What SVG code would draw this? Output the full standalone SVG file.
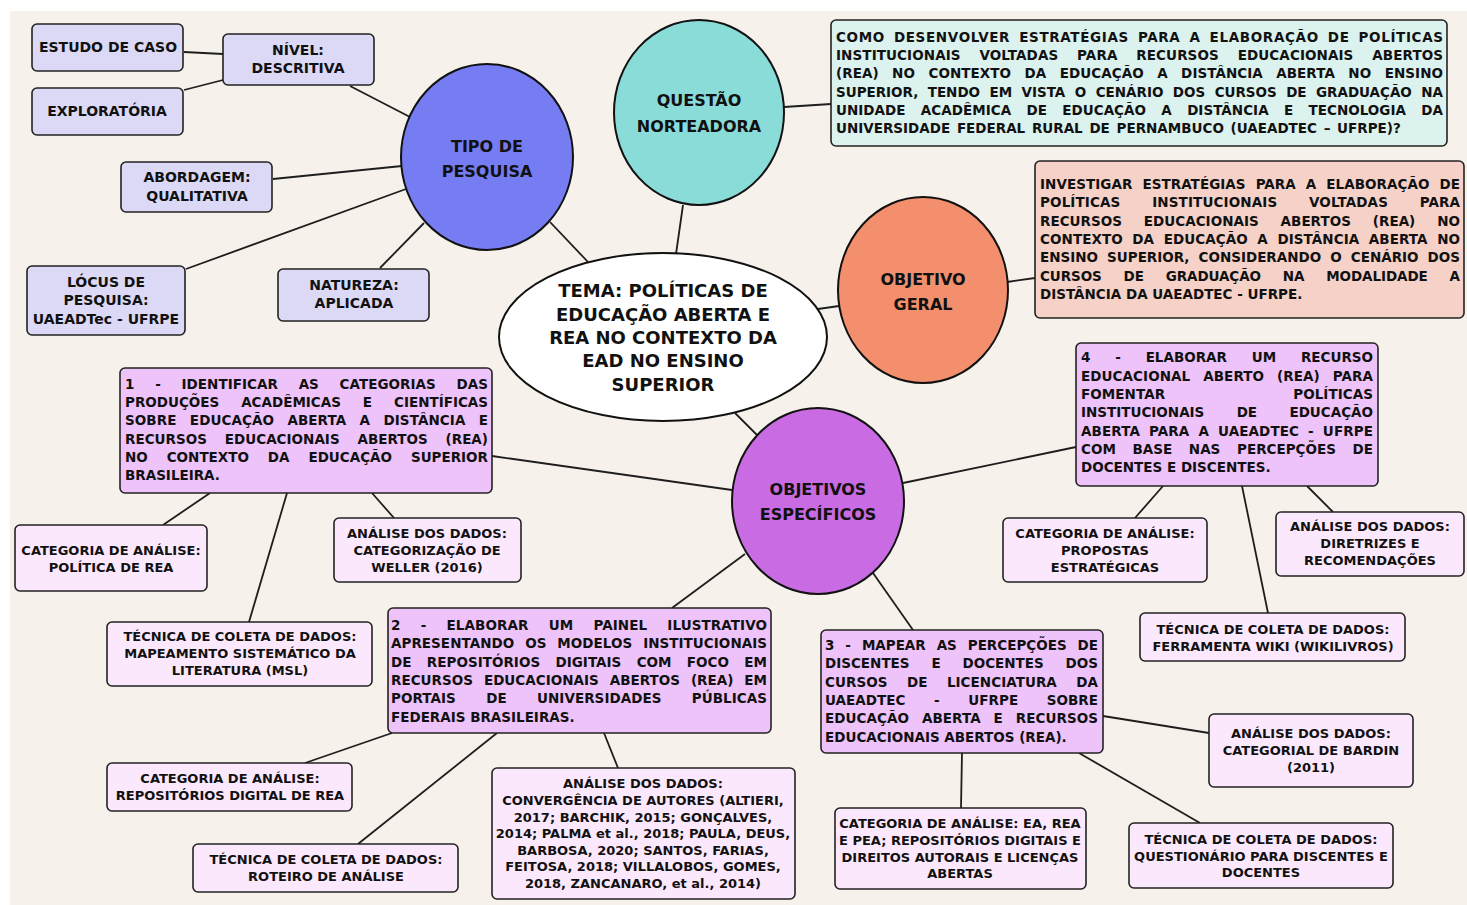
<svg xmlns="http://www.w3.org/2000/svg" width="1467" height="905" viewBox="0 0 1467 905">
<style>
text{font-family:"DejaVu Sans","Liberation Sans",sans-serif;font-weight:bold;fill:#111;}
.c{text-anchor:middle;}
.s14{font-size:14px;}
.s13{font-size:13px;}
.b{font-size:13.5px;}
.big{font-size:16px;text-anchor:middle;}
.tema{font-size:18px;text-anchor:middle;}
.box{stroke:#222;stroke-width:1.6;}
.lav{fill:#dcd9f6;}
.pink{fill:#fce8fc;}
.purp{fill:#eec3fa;}
.circ{stroke:#111;stroke-width:2;}
#connectors line{stroke:#1e1e1e;stroke-width:1.8;}
</style>
<rect x="0" y="0" width="1467" height="905" fill="#ffffff"/>
<rect x="10" y="11" width="1457" height="894" fill="#f6f2eb"/>

<g id="connectors">
<line x1="184" y1="52" x2="223" y2="54"/>
<line x1="184" y1="90" x2="223" y2="80"/>
<line x1="350" y1="86" x2="410" y2="117"/>
<line x1="273" y1="179" x2="402" y2="166"/>
<line x1="186" y1="269" x2="406" y2="189"/>
<line x1="380" y1="268" x2="424" y2="223"/>
<line x1="550" y1="222" x2="588" y2="262"/>
<line x1="683" y1="205" x2="676" y2="254"/>
<line x1="784" y1="107" x2="831" y2="104"/>
<line x1="818" y1="309" x2="839" y2="306"/>
<line x1="1007" y1="282" x2="1035" y2="278"/>
<line x1="735" y1="413" x2="757" y2="435"/>
<line x1="732" y1="490" x2="492" y2="456"/>
<line x1="903" y1="483" x2="1076" y2="447"/>
<line x1="745" y1="554" x2="672" y2="608"/>
<line x1="873" y1="573" x2="913" y2="630"/>
<line x1="210" y1="493" x2="163" y2="525"/>
<line x1="287" y1="493" x2="249" y2="622"/>
<line x1="372" y1="493" x2="394" y2="518"/>
<line x1="1163" y1="486" x2="1135" y2="518"/>
<line x1="1242" y1="486" x2="1268" y2="613"/>
<line x1="1307" y1="486" x2="1333" y2="512"/>
<line x1="392" y1="733" x2="305" y2="763"/>
<line x1="497" y1="733" x2="358" y2="844"/>
<line x1="604" y1="733" x2="618" y2="768"/>
<line x1="1103" y1="716" x2="1209" y2="733"/>
<line x1="962" y1="753" x2="961" y2="808"/>
<line x1="1079" y1="753" x2="1200" y2="823"/>
</g>

<!-- Tipo de pesquisa branch -->
<g id="estudo">
<rect class="box lav" x="32" y="24" width="151" height="47" rx="5"/>
<text class="s14 c" x="108" y="52">ESTUDO DE CASO</text>
</g>
<g id="nivel">
<rect class="box lav" x="223" y="34" width="151" height="51" rx="5"/>
<text class="s14 c" x="298" y="55">NÍVEL:</text>
<text class="s14 c" x="298" y="73">DESCRITIVA</text>
</g>
<g id="exploratoria">
<rect class="box lav" x="32" y="88" width="151" height="47" rx="5"/>
<text class="s14 c" x="107" y="116">EXPLORATÓRIA</text>
</g>
<g id="abordagem">
<rect class="box lav" x="121" y="162" width="151" height="50" rx="5"/>
<text class="s14 c" x="197" y="182">ABORDAGEM:</text>
<text class="s14 c" x="197" y="201">QUALITATIVA</text>
</g>
<g id="locus">
<rect class="box lav" x="27" y="266" width="158" height="69" rx="5"/>
<text class="s14 c" x="106" y="287">LÓCUS DE</text>
<text class="s14 c" x="106" y="305">PESQUISA:</text>
<text class="s14 c" x="106" y="324">UAEADTec - UFRPE</text>
</g>
<g id="natureza">
<rect class="box lav" x="278" y="269" width="151" height="52" rx="5"/>
<text class="s14 c" x="354" y="290">NATUREZA:</text>
<text class="s14 c" x="354" y="308">APLICADA</text>
</g>
<g id="tipo">
<ellipse class="circ" cx="487" cy="157" rx="86" ry="93" fill="#767cf2"/>
<text class="big" x="487" y="152">TIPO DE</text>
<text class="big" x="487" y="177">PESQUISA</text>
</g>

<!-- Questão norteadora -->
<g id="questao">
<ellipse class="circ" cx="699" cy="112.5" rx="85" ry="92.5" fill="#8adcd9"/>
<text class="big" x="699" y="106">QUESTÃO</text>
<text class="big" x="699" y="132">NORTEADORA</text>
</g>
<g id="questao-texto">
<rect class="box" x="831" y="20" width="616" height="126" rx="5" fill="#dcf2ef"/>
<text class="b" x="836" y="42" style="word-spacing:3.7px" textLength="607" lengthAdjust="spacing">COMO DESENVOLVER ESTRATÉGIAS PARA A ELABORAÇÃO DE POLÍTICAS</text>
<text class="b" x="836" y="60" style="word-spacing:14.06px" textLength="607" lengthAdjust="spacing">INSTITUCIONAIS VOLTADAS PARA RECURSOS EDUCACIONAIS ABERTOS</text>
<text class="b" x="836" y="78" style="word-spacing:8.73px" textLength="607" lengthAdjust="spacing">(REA) NO CONTEXTO DA EDUCAÇÃO A DISTÂNCIA ABERTA NO ENSINO</text>
<text class="b" x="836" y="97" style="word-spacing:4.82px" textLength="607" lengthAdjust="spacing">SUPERIOR, TENDO EM VISTA O CENÁRIO DOS CURSOS DE GRADUAÇÃO NA</text>
<text class="b" x="836" y="115" style="word-spacing:10.59px" textLength="607" lengthAdjust="spacing">UNIDADE ACADÊMICA DE EDUCAÇÃO A DISTÂNCIA E TECNOLOGIA DA</text>
<text class="b" x="836" y="133" style="word-spacing:2px">UNIVERSIDADE FEDERAL RURAL DE PERNAMBUCO (UAEADTEC – UFRPE)?</text>
</g>

<!-- Objetivo geral -->
<g id="objetivo-geral">
<ellipse class="circ" cx="923" cy="290" rx="85" ry="93" fill="#f48f6e"/>
<text class="big" x="923" y="285">OBJETIVO</text>
<text class="big" x="923" y="310">GERAL</text>
</g>
<g id="objetivo-geral-texto">
<rect class="box" x="1035" y="161" width="429" height="157" rx="5" fill="#f5d1c7"/>
<text class="b" x="1040" y="189" style="word-spacing:5.24px" textLength="420" lengthAdjust="spacing">INVESTIGAR ESTRATÉGIAS PARA A ELABORAÇÃO DE</text>
<text class="b" x="1040" y="207" style="word-spacing:26.83px" textLength="420" lengthAdjust="spacing">POLÍTICAS INSTITUCIONAIS VOLTADAS PARA</text>
<text class="b" x="1040" y="226" style="word-spacing:17.22px" textLength="420" lengthAdjust="spacing">RECURSOS EDUCACIONAIS ABERTOS (REA) NO</text>
<text class="b" x="1040" y="244" style="word-spacing:4.82px" textLength="420" lengthAdjust="spacing">CONTEXTO DA EDUCAÇÃO A DISTÂNCIA ABERTA NO</text>
<text class="b" x="1040" y="262" style="word-spacing:4.4px" textLength="420" lengthAdjust="spacing">ENSINO SUPERIOR, CONSIDERANDO O CENÁRIO DOS</text>
<text class="b" x="1040" y="281" style="word-spacing:17.16px" textLength="420" lengthAdjust="spacing">CURSOS DE GRADUAÇÃO NA MODALIDADE A</text>
<text class="b" x="1040" y="299">DISTÂNCIA DA UAEADTEC - UFRPE.</text>
</g>

<!-- Tema -->
<g id="tema">
<ellipse class="circ" cx="663" cy="337" rx="164" ry="84" fill="#ffffff"/>
<text class="tema" x="663" y="297">TEMA: POLÍTICAS DE</text>
<text class="tema" x="663" y="321">EDUCAÇÃO ABERTA E</text>
<text class="tema" x="663" y="344">REA NO CONTEXTO DA</text>
<text class="tema" x="663" y="367">EAD NO ENSINO</text>
<text class="tema" x="663" y="391">SUPERIOR</text>
</g>

<!-- Objetivos específicos -->
<g id="objetivos-especificos">
<ellipse class="circ" cx="818" cy="501" rx="86" ry="93" fill="#c96be2"/>
<text class="big" x="818" y="495">OBJETIVOS</text>
<text class="big" x="818" y="520">ESPECÍFICOS</text>
</g>

<g id="obj1">
<rect class="box purp" x="120" y="368" width="372" height="125" rx="5"/>
<text class="b" x="125" y="389" style="word-spacing:16.02px" textLength="363" lengthAdjust="spacing">1 - IDENTIFICAR AS CATEGORIAS DAS</text>
<text class="b" x="125" y="407" style="word-spacing:17.23px" textLength="363" lengthAdjust="spacing">PRODUÇÕES ACADÊMICAS E CIENTÍFICAS</text>
<text class="b" x="125" y="425" style="word-spacing:8.58px" textLength="363" lengthAdjust="spacing">SOBRE EDUCAÇÃO ABERTA A DISTÂNCIA E</text>
<text class="b" x="125" y="444" style="word-spacing:13.1px" textLength="363" lengthAdjust="spacing">RECURSOS EDUCACIONAIS ABERTOS (REA)</text>
<text class="b" x="125" y="462" style="word-spacing:14.23px" textLength="363" lengthAdjust="spacing">NO CONTEXTO DA EDUCAÇÃO SUPERIOR</text>
<text class="b" x="125" y="480">BRASILEIRA.</text>
</g>
<g id="obj1-categoria">
<rect class="box pink" x="15" y="525" width="192" height="66" rx="5"/>
<text class="s13 c" x="111" y="555">CATEGORIA DE ANÁLISE:</text>
<text class="s13 c" x="111" y="572">POLÍTICA DE REA</text>
</g>
<g id="obj1-analise">
<rect class="box pink" x="334" y="518" width="187" height="64" rx="5"/>
<text class="s13 c" x="427" y="538">ANÁLISE DOS DADOS:</text>
<text class="s13 c" x="427" y="555">CATEGORIZAÇÃO DE</text>
<text class="s13 c" x="427" y="572">WELLER (2016)</text>
</g>
<g id="obj1-tecnica">
<rect class="box pink" x="107" y="622" width="265" height="64" rx="5"/>
<text class="s13 c" x="240" y="641">TÉCNICA DE COLETA DE DADOS:</text>
<text class="s13 c" x="240" y="658">MAPEAMENTO SISTEMÁTICO DA</text>
<text class="s13 c" x="240" y="675">LITERATURA (MSL)</text>
</g>

<g id="obj2">
<rect class="box purp" x="388" y="608" width="383" height="125" rx="5"/>
<text class="b" x="391" y="630" style="word-spacing:15.38px" textLength="376" lengthAdjust="spacing">2 - ELABORAR UM PAINEL ILUSTRATIVO</text>
<text class="b" x="391" y="648" style="word-spacing:6.17px" textLength="376" lengthAdjust="spacing">APRESENTANDO OS MODELOS INSTITUCIONAIS</text>
<text class="b" x="391" y="667" style="word-spacing:10.56px" textLength="376" lengthAdjust="spacing">DE REPOSITÓRIOS DIGITAIS COM FOCO EM</text>
<text class="b" x="391" y="685" style="word-spacing:6.25px" textLength="376" lengthAdjust="spacing">RECURSOS EDUCACIONAIS ABERTOS (REA) EM</text>
<text class="b" x="391" y="703" style="word-spacing:25.53px" textLength="376" lengthAdjust="spacing">PORTAIS DE UNIVERSIDADES PÚBLICAS</text>
<text class="b" x="391" y="722">FEDERAIS BRASILEIRAS.</text>
</g>
<g id="obj2-categoria">
<rect class="box pink" x="107" y="763" width="245" height="48" rx="5"/>
<text class="s13 c" x="230" y="783">CATEGORIA DE ANÁLISE:</text>
<text class="s13 c" x="230" y="800">REPOSITÓRIOS DIGITAL DE REA</text>
</g>
<g id="obj2-tecnica">
<rect class="box pink" x="193" y="844" width="265" height="48" rx="5"/>
<text class="s13 c" x="326" y="864">TÉCNICA DE COLETA DE DADOS:</text>
<text class="s13 c" x="326" y="881">ROTEIRO DE ANÁLISE</text>
</g>
<g id="obj2-analise">
<rect class="box pink" x="492" y="768" width="303" height="131" rx="5"/>
<text class="s13 c" x="643" y="788">ANÁLISE DOS DADOS:</text>
<text class="s13 c" x="643" y="805">CONVERGÊNCIA DE AUTORES (ALTIERI,</text>
<text class="s13 c" x="643" y="822">2017; BARCHIK, 2015; GONÇALVES,</text>
<text class="s13 c" x="643" y="838">2014; PALMA et al., 2018; PAULA, DEUS,</text>
<text class="s13 c" x="643" y="855">BARBOSA, 2020; SANTOS, FARIAS,</text>
<text class="s13 c" x="643" y="871">FEITOSA, 2018; VILLALOBOS, GOMES,</text>
<text class="s13 c" x="643" y="888">2018, ZANCANARO, et al., 2014)</text>
</g>

<g id="obj3">
<rect class="box purp" x="821" y="630" width="282" height="123" rx="5"/>
<text class="b" x="825" y="650" style="word-spacing:6.24px" textLength="273" lengthAdjust="spacing">3 - MAPEAR AS PERCEPÇÕES DE</text>
<text class="b" x="825" y="668" style="word-spacing:17.17px" textLength="273" lengthAdjust="spacing">DISCENTES E DOCENTES DOS</text>
<text class="b" x="825" y="687" style="word-spacing:14.73px" textLength="273" lengthAdjust="spacing">CURSOS DE LICENCIATURA DA</text>
<text class="b" x="825" y="705" style="word-spacing:23.97px" textLength="273" lengthAdjust="spacing">UAEADTEC - UFRPE SOBRE</text>
<text class="b" x="825" y="723" style="word-spacing:8.1px" textLength="273" lengthAdjust="spacing">EDUCAÇÃO ABERTA E RECURSOS</text>
<text class="b" x="825" y="742">EDUCACIONAIS ABERTOS (REA).</text>
</g>
<g id="obj3-analise">
<rect class="box pink" x="1209" y="714" width="204" height="73" rx="5"/>
<text class="s13 c" x="1311" y="738">ANÁLISE DOS DADOS:</text>
<text class="s13 c" x="1311" y="755">CATEGORIAL DE BARDIN</text>
<text class="s13 c" x="1311" y="772">(2011)</text>
</g>
<g id="obj3-categoria">
<rect class="box pink" x="835" y="808" width="251" height="81" rx="5"/>
<text class="s13 c" x="960" y="828">CATEGORIA DE ANÁLISE: EA, REA</text>
<text class="s13 c" x="960" y="845">E PEA; REPOSITÓRIOS DIGITAIS E</text>
<text class="s13 c" x="960" y="862">DIREITOS AUTORAIS E LICENÇAS</text>
<text class="s13 c" x="960" y="878">ABERTAS</text>
</g>
<g id="obj3-tecnica">
<rect class="box pink" x="1129" y="823" width="264" height="65" rx="5"/>
<text class="s13 c" x="1261" y="844">TÉCNICA DE COLETA DE DADOS:</text>
<text class="s13 c" x="1261" y="861">QUESTIONÁRIO PARA DISCENTES E</text>
<text class="s13 c" x="1261" y="877">DOCENTES</text>
</g>

<g id="obj4">
<rect class="box purp" x="1076" y="343" width="302" height="143" rx="5"/>
<text class="b" x="1081" y="362" style="word-spacing:20.12px" textLength="292" lengthAdjust="spacing">4 - ELABORAR UM RECURSO</text>
<text class="b" x="1081" y="381" style="word-spacing:8.27px" textLength="292" lengthAdjust="spacing">EDUCACIONAL ABERTO (REA) PARA</text>
<text class="b" x="1081" y="399" style="word-spacing:123.3px" textLength="292" lengthAdjust="spacing">FOMENTAR POLÍTICAS</text>
<text class="b" x="1081" y="417" style="word-spacing:27.65px" textLength="292" lengthAdjust="spacing">INSTITUCIONAIS DE EDUCAÇÃO</text>
<text class="b" x="1081" y="436" style="word-spacing:4.18px" textLength="292" lengthAdjust="spacing">ABERTA PARA A UAEADTEC - UFRPE</text>
<text class="b" x="1081" y="454" style="word-spacing:12px" textLength="292" lengthAdjust="spacing">COM BASE NAS PERCEPÇÕES DE</text>
<text class="b" x="1081" y="472">DOCENTES E DISCENTES.</text>
</g>
<g id="obj4-categoria">
<rect class="box pink" x="1003" y="518" width="204" height="64" rx="5"/>
<text class="s13 c" x="1105" y="538">CATEGORIA DE ANÁLISE:</text>
<text class="s13 c" x="1105" y="555">PROPOSTAS</text>
<text class="s13 c" x="1105" y="572">ESTRATÉGICAS</text>
</g>
<g id="obj4-analise">
<rect class="box pink" x="1276" y="512" width="188" height="64" rx="5"/>
<text class="s13 c" x="1370" y="531">ANÁLISE DOS DADOS:</text>
<text class="s13 c" x="1370" y="548">DIRETRIZES E</text>
<text class="s13 c" x="1370" y="565">RECOMENDAÇÕES</text>
</g>
<g id="obj4-tecnica">
<rect class="box pink" x="1140" y="613" width="265" height="48" rx="5"/>
<text class="s13 c" x="1273" y="634">TÉCNICA DE COLETA DE DADOS:</text>
<text class="s13 c" x="1273" y="651">FERRAMENTA WIKI (WIKILIVROS)</text>
</g>
</svg>
